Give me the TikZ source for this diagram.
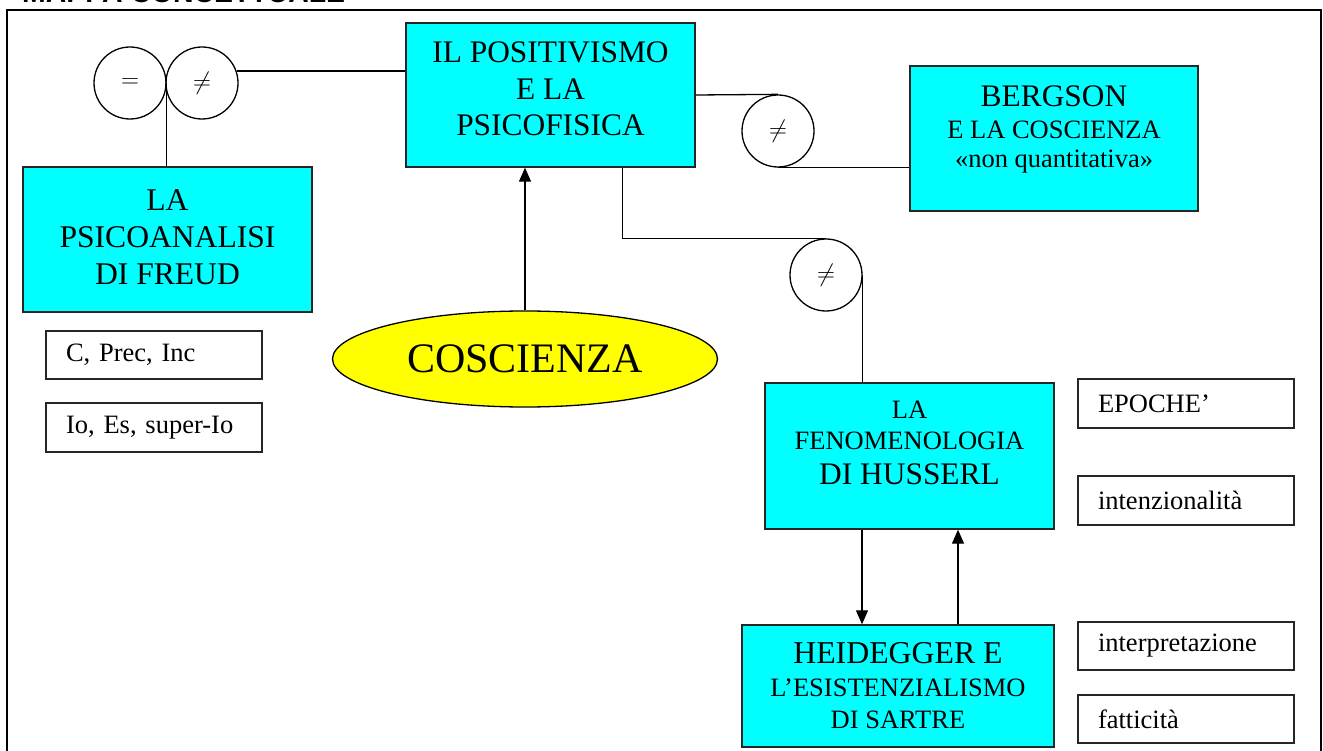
\documentclass[tikz,border=0pt]{standalone}
\usepackage{fontspec}
\setmainfont{Liberation Serif}
\newfontfamily\titlefont{Liberation Sans}
\usetikzlibrary{shapes.geometric,arrows.meta}
\definecolor{boxcyan}{HTML}{00FFFF}
\definecolor{ovalyellow}{HTML}{FFFF00}
\newcommand{\fsz}[2]{\fontsize{#1}{#2}\selectfont}

\begin{document}
\begin{tikzpicture}[
    x=1pt, y=-1pt,
    concept/.style={rectangle, draw=black!85, line width=1.4pt, fill=boxcyan, align=center, inner sep=0pt, font=\fsz{26.5}{32}},
    tag/.style={rectangle, draw=black!85, line width=1.3pt, fill=white, minimum width=216pt, text width=176pt, align=left, inner xsep=20pt, inner ysep=0pt, font=\fsz{26.5}{32}},
    relation/.style={circle, draw, line width=1.3pt, minimum size=72pt, inner sep=0pt, font=\fsz{30}{32}},
    link/.style={line width=1.3pt},
    arrowlink/.style={line width=1.3pt, -{Triangle[length=14pt,width=12pt]}}
]
\useasboundingbox (0,0) rectangle (1323,751);

% Title, cut by the top edge
\begin{scope}
\clip (0,0) rectangle (1323,751);
\node[font=\titlefont\bfseries\fsz{28.4}{32}, anchor=base west, inner sep=0pt] (title) at (22,3) {MAPPA CONCETTUALE};
\end{scope}

% Frame
\draw[line width=2.5pt] (7,765) -- (7,10) -- (1321,10) -- (1321,765);

% Main concepts
\node[concept, font=\fsz{31.4}{36.5}, minimum width=289pt, minimum height=144pt, text depth=12pt] (positivismo) at (550.5,95) {IL POSITIVISMO\\E LA\\PSICOFISICA};
\node[concept, font=\fsz{31.6}{37}, minimum width=289pt, minimum height=145pt, text depth=5pt] (freud) at (167.5,239.5) {LA\\PSICOANALISI\\DI FREUD};
\node[concept, font=\fsz{26.5}{32}, minimum width=288pt, minimum height=145pt, text depth=23pt] (bergson) at (1054,138.5) {\fsz{31.4}{32}BERGSON\\E LA COSCIENZA\\[-3pt]«non quantitativa»};
\node[concept, font=\fsz{26.5}{31}, minimum width=289pt, minimum height=146pt, text depth=27pt] (husserl) at (909.5,456) {LA\\FENOMENOLOGIA\\[4pt]\fsz{31.4}{31}DI HUSSERL};
\node[concept, font=\fsz{26.5}{32}, minimum width=312pt, minimum height=122pt] (heidegger) at (898,686) {\fsz{31.8}{32}HEIDEGGER E\\[1pt]L’ESISTENZIALISMO\\DI SARTRE};

% Central oval
\node[ellipse, draw, line width=1.3pt, fill=ovalyellow, minimum width=385pt, minimum height=96pt, inner sep=0pt, font=\fsz{42}{46}] (coscienza) at (525,359) {COSCIENZA};

% Relation circles
\node[relation] (eqA) at (130,83) {$=$};
\node[relation] (neqA) at (202,83) {$\neq$};
\node[relation] (neqB) at (778,131) {$\neq$};
\node[relation] (neqC) at (826,275) {$\neq$};

% Keywords
\node[tag, minimum height=48pt] (prec) at (154,355) {C, Prec, Inc};
\node[tag, minimum height=49pt] (ides) at (154,427.5) {Io, Es, super-Io};
\node[tag, minimum height=49pt] (epoche) at (1186,403.5) {EPOCHE’};
\node[tag, minimum height=49pt] (intenz) at (1186,500.5) {intenzionalità};
\node[tag, minimum height=48pt] (interp) at (1186,646) {interpretazione};
\node[tag, minimum height=48pt] (fatt) at (1186,719) {fatticità};

% Connectors
\draw[link] (neqA.19.5) -- (neqA.19.5 -| positivismo.west);
\draw[link] (eqA.east) -- (eqA.east |- freud.north);
\draw[arrowlink] (coscienza.north) -- (coscienza.north |- positivismo.south);
\draw[link] (positivismo.east) -- (neqB.north);
\draw[link] (neqB.south) -- (neqB.south -| bergson.west);
\draw[link] ([xshift=-73pt]positivismo.south east) |- (neqC.north);
\draw[link] (neqC.east) -- (neqC.east |- husserl.north);
\draw[arrowlink] ([xshift=-47.5pt]husserl.south) -- ([xshift=-47.5pt]husserl.south |- heidegger.north);
\draw[arrowlink] ([xshift=48.5pt]husserl.south |- heidegger.north) -- ([xshift=48.5pt]husserl.south);

\end{tikzpicture}
\end{document}
